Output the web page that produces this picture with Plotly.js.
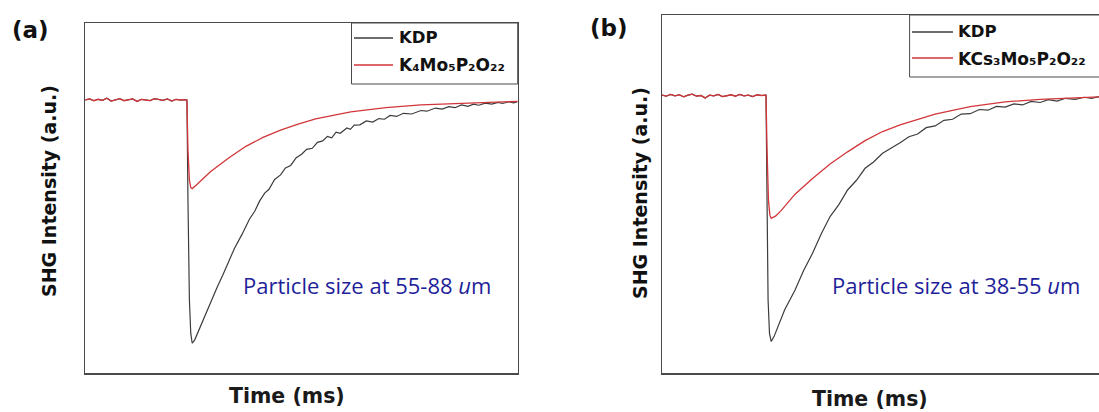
<!DOCTYPE html>
<html>
<head>
<meta charset="utf-8">
<script src="https://cdn.plot.ly/plotly-3.0.1.min.js"></script>
<style>
html,body{margin:0;padding:0;overflow:hidden;background:#fff;}
#chart{width:1112px;height:412px;}
</style>
</head>
<body>
<div id="chart"></div>
<script>
// ---------- data (time in ms, intensity in a.u.) ----------
// Panel (a): particle size 55-88 um
const baseTimeA = [0,0.1,0.2,0.3,0.4,0.5,0.6,0.7,0.8,0.9,1.0,1.1,1.2,1.3,1.4,1.5,1.6,1.7,1.8,1.9,2.0,2.1,2.2,2.3];
const baseValA  = [78.0,78.3,77.8,78.2,77.9,78.5,77.7,78.1,78.4,77.8,78.0,78.3,77.6,78.2,78.0,77.8,78.4,78.1,77.9,78.3,77.7,78.2,78.0,78.1];
const kdpTimeA = [2.352,2.376,2.409,2.441,2.474,2.530,2.611,2.733,2.895,3.058,3.18,3.301,3.45,3.625,3.80,3.92,4.031,4.15,4.25,4.38,4.517,4.63,4.75,4.88,5.004,5.12,5.25,5.37,5.490,5.60,5.70,5.80,5.896,6.05,6.13,6.220,6.35,6.50,6.65,6.788,6.92,7.05,7.2,7.356,7.55,7.762,7.9,8.10,8.25,8.410,8.55,8.70,8.85,8.978,9.1,9.25,9.4,9.546,9.65,9.80,9.9,10.0];
const kdpValA  = [78.0,49.4,20.9,11.3,8.5,9.4,11.8,15.6,19.9,24.7,27.9,31.3,35.6,39.6,44.0,46.2,49.1,51.4,52.5,55.3,56.6,58.6,59.3,61.5,62.5,63.9,64.2,65.9,66.3,67.6,67.2,68.8,68.5,70.0,69.6,70.8,70.9,72.0,71.7,72.7,72.5,73.6,73.3,74.2,74.0,75.0,74.8,75.7,75.4,76.1,75.8,76.6,76.2,76.8,76.5,77.1,76.8,77.3,77.0,77.5,77.2,77.5];
const cmpTimeA = [2.352,2.376,2.409,2.441,2.474,2.571,2.733,2.895,3.301,3.706,4.112,4.517,4.923,5.328,6.139,6.950,7.762,8.573,9.384,10.0];
const cmpValA  = [78.0,63.7,55.1,53.0,52.7,53.7,55.6,57.5,61.3,64.7,67.3,69.4,71.1,72.6,74.6,75.8,76.6,77.0,77.4,77.6];

// Panel (b): particle size 38-55 um
const baseTimeB = [0,0.1,0.2,0.3,0.4,0.5,0.6,0.7,0.8,0.9,1.0,1.1,1.2,1.3,1.4,1.5,1.6,1.7,1.8,1.9,2.0,2.1,2.2,2.3,2.38];
const baseValB  = [79.4,79.1,79.6,79.2,79.5,78.9,79.4,79.7,79.1,79.3,78.6,79.4,79.2,79.6,79.0,79.3,79.5,79.1,79.6,79.2,79.4,79.0,79.5,79.3,79.4];
const kdpTimeB = [2.409,2.433,2.457,2.490,2.530,2.595,2.676,2.839,3.082,3.28,3.487,3.69,3.893,4.10,4.298,4.50,4.704,4.90,5.109,5.30,5.515,5.72,5.920,6.12,6.326,6.53,6.732,6.93,7.137,7.35,7.548,7.75,7.948,8.15,8.35,8.55,8.759,8.95,9.15,9.35,9.570,9.78,9.95,10.12,10.25,10.37];
const kdpValB  = [79.4,49.4,20.9,11.3,9.0,10.4,12.8,18.0,23.7,29.3,34.2,39.8,44.7,48.2,52.3,55.0,58.5,60.3,62.8,64.1,65.8,67.5,68.3,70.1,70.6,72.2,72.5,74.0,74.1,75.3,75.1,76.2,76.0,76.9,76.6,77.6,77.3,78.1,77.7,78.5,78.2,78.8,78.5,79.0,78.7,79.1];
const cmpTimeB = [2.409,2.433,2.466,2.498,2.530,2.636,2.758,3.082,3.487,3.893,4.298,4.704,5.109,5.515,6.326,7.137,7.948,8.759,9.570,10.37];
const cmpValB  = [79.4,63.7,49.4,45.1,44.2,44.9,46.4,51.1,55.6,59.7,63.2,66.4,69.0,70.9,74.0,76.1,77.5,78.2,78.7,79.0];

const seriesNames = ['KDP', 'K\u2084Mo\u2085P\u2082O\u2082\u2082', 'KCs\u2083Mo\u2085P\u2082O\u2082\u2082'];
const panelLabels = ['(a)', '(b)'];
const sizeNotes = ['Particle size at 55-88 <i>u</i>m', 'Particle size at 38-55 <i>u</i>m'];
const xTitle = 'Time (ms)';
const yTitle = 'SHG Intensity (a.u.)';

// ---------- layout helpers ----------
const W = 1112, H = 412;
const px = v => v / W;
const py = v => 1 - v / H;
const KDP_COLOR = '#3c3c3c';
const RED_COLOR = '#d2363a';
const BORDER = '#4a4a4a';
const BOLD = {family: 'DejaVu Sans, Liberation Sans, sans-serif', size: 16.5, color: '#111', weight: 'bold'};
const NOTE = {family: 'Open Sans, Lato, sans-serif', size: 22, color: '#1f1f9a'};

const traces = [
  {x: baseTimeA.concat(kdpTimeA), y: baseValA.concat(kdpValA), xaxis: 'x', yaxis: 'y',
   mode: 'lines', line: {color: KDP_COLOR, width: 1.2}, name: seriesNames[0], showlegend: false},
  {x: baseTimeA.concat(cmpTimeA), y: baseValA.concat(cmpValA), xaxis: 'x', yaxis: 'y',
   mode: 'lines', line: {color: RED_COLOR, width: 1.3}, name: seriesNames[1], showlegend: false},
  {x: baseTimeB.concat(kdpTimeB), y: baseValB.concat(kdpValB), xaxis: 'x2', yaxis: 'y2',
   mode: 'lines', line: {color: KDP_COLOR, width: 1.2}, name: seriesNames[0], showlegend: false},
  {x: baseTimeB.concat(cmpTimeB), y: baseValB.concat(cmpValB), xaxis: 'x2', yaxis: 'y2',
   mode: 'lines', line: {color: RED_COLOR, width: 1.3}, name: seriesNames[2], showlegend: false}
];

const axisCommon = {showline: true, mirror: true, linecolor: BORDER, linewidth: 1.5,
  showgrid: false, zeroline: false, showticklabels: false, ticks: '', fixedrange: true};

const layout = {
  width: W, height: H,
  margin: {l: 0, r: 0, t: 0, b: 0},
  paper_bgcolor: '#fff', plot_bgcolor: '#fff',
  showlegend: false,
  xaxis: Object.assign({}, axisCommon, {domain: [px(85.2), px(517.7)], range: [0, 10], anchor: 'y'}),
  yaxis: Object.assign({}, axisCommon, {domain: [39 / H, 389 / H], range: [0, 100], anchor: 'x'}),
  xaxis2: Object.assign({}, axisCommon, {domain: [px(662), px(1111)], range: [0, 10.4], anchor: 'y2'}),
  yaxis2: Object.assign({}, axisCommon, {domain: [39 / H, 397 / H], range: [0, 102.3], anchor: 'x2'}),
  shapes: [
    // legend boxes
    {type: 'rect', xref: 'paper', yref: 'paper', x0: px(351.5), x1: px(517.7), y0: py(84), y1: py(23),
     line: {color: BORDER, width: 1}, fillcolor: 'rgba(255,255,255,1)', layer: 'above'},
    {type: 'line', xref: 'paper', yref: 'paper', x0: px(354), x1: px(393), y0: py(38), y1: py(38),
     line: {color: KDP_COLOR, width: 1.3}},
    {type: 'line', xref: 'paper', yref: 'paper', x0: px(354), x1: px(393), y0: py(65), y1: py(65),
     line: {color: RED_COLOR, width: 1.3}},
    {type: 'rect', xref: 'paper', yref: 'paper', x0: px(909.6), x1: px(1111), y0: py(77), y1: py(15),
     line: {color: BORDER, width: 1}, fillcolor: 'rgba(255,255,255,1)', layer: 'above'},
    {type: 'line', xref: 'paper', yref: 'paper', x0: px(912), x1: px(953), y0: py(32), y1: py(32),
     line: {color: KDP_COLOR, width: 1.3}},
    {type: 'line', xref: 'paper', yref: 'paper', x0: px(912), x1: px(953), y0: py(58), y1: py(58),
     line: {color: RED_COLOR, width: 1.3}}
  ],
  annotations: [
    // legend texts
    {xref: 'paper', yref: 'paper', x: px(397), y: py(38), xanchor: 'left', yanchor: 'middle',
     text: seriesNames[0], showarrow: false, font: BOLD},
    {xref: 'paper', yref: 'paper', x: px(397), y: py(65), xanchor: 'left', yanchor: 'middle',
     text: seriesNames[1], showarrow: false, font: Object.assign({}, BOLD, {size: 17})},
    {xref: 'paper', yref: 'paper', x: px(956), y: py(32), xanchor: 'left', yanchor: 'middle',
     text: seriesNames[0], showarrow: false, font: BOLD},
    {xref: 'paper', yref: 'paper', x: px(956), y: py(59), xanchor: 'left', yanchor: 'middle',
     text: seriesNames[2], showarrow: false, font: Object.assign({}, BOLD, {size: 17})},
    // panel labels
    {xref: 'paper', yref: 'paper', x: px(30), y: py(30), xanchor: 'center', yanchor: 'middle',
     text: panelLabels[0], showarrow: false, font: Object.assign({}, BOLD, {size: 23})},
    {xref: 'paper', yref: 'paper', x: px(609), y: py(28), xanchor: 'center', yanchor: 'middle',
     text: panelLabels[1], showarrow: false, font: Object.assign({}, BOLD, {size: 23})},
    // axis titles
    {xref: 'paper', yref: 'paper', x: px(49), y: py(191), xanchor: 'center', yanchor: 'middle', textangle: -90,
     text: yTitle, showarrow: false, font: Object.assign({}, BOLD, {size: 19})},
    {xref: 'paper', yref: 'paper', x: px(640), y: py(193), xanchor: 'center', yanchor: 'middle', textangle: -90,
     text: yTitle, showarrow: false, font: Object.assign({}, BOLD, {size: 19})},
    {xref: 'paper', yref: 'paper', x: px(287), y: py(396), xanchor: 'center', yanchor: 'middle',
     text: xTitle, showarrow: false, font: Object.assign({}, BOLD, {size: 20.5, color: '#1a1a1a'})},
    {xref: 'paper', yref: 'paper', x: px(870), y: py(399), xanchor: 'center', yanchor: 'middle',
     text: xTitle, showarrow: false, font: Object.assign({}, BOLD, {size: 20.5, color: '#1a1a1a'})},
    // particle size notes
    {xref: 'paper', yref: 'paper', x: px(367), y: py(285), xanchor: 'center', yanchor: 'middle',
     text: sizeNotes[0], showarrow: false, font: NOTE},
    {xref: 'paper', yref: 'paper', x: px(956), y: py(285), xanchor: 'center', yanchor: 'middle',
     text: sizeNotes[1], showarrow: false, font: NOTE}
  ]
};

Plotly.newPlot('chart', traces, layout, {staticPlot: true, displayModeBar: false});
</script>
</body>
</html>
